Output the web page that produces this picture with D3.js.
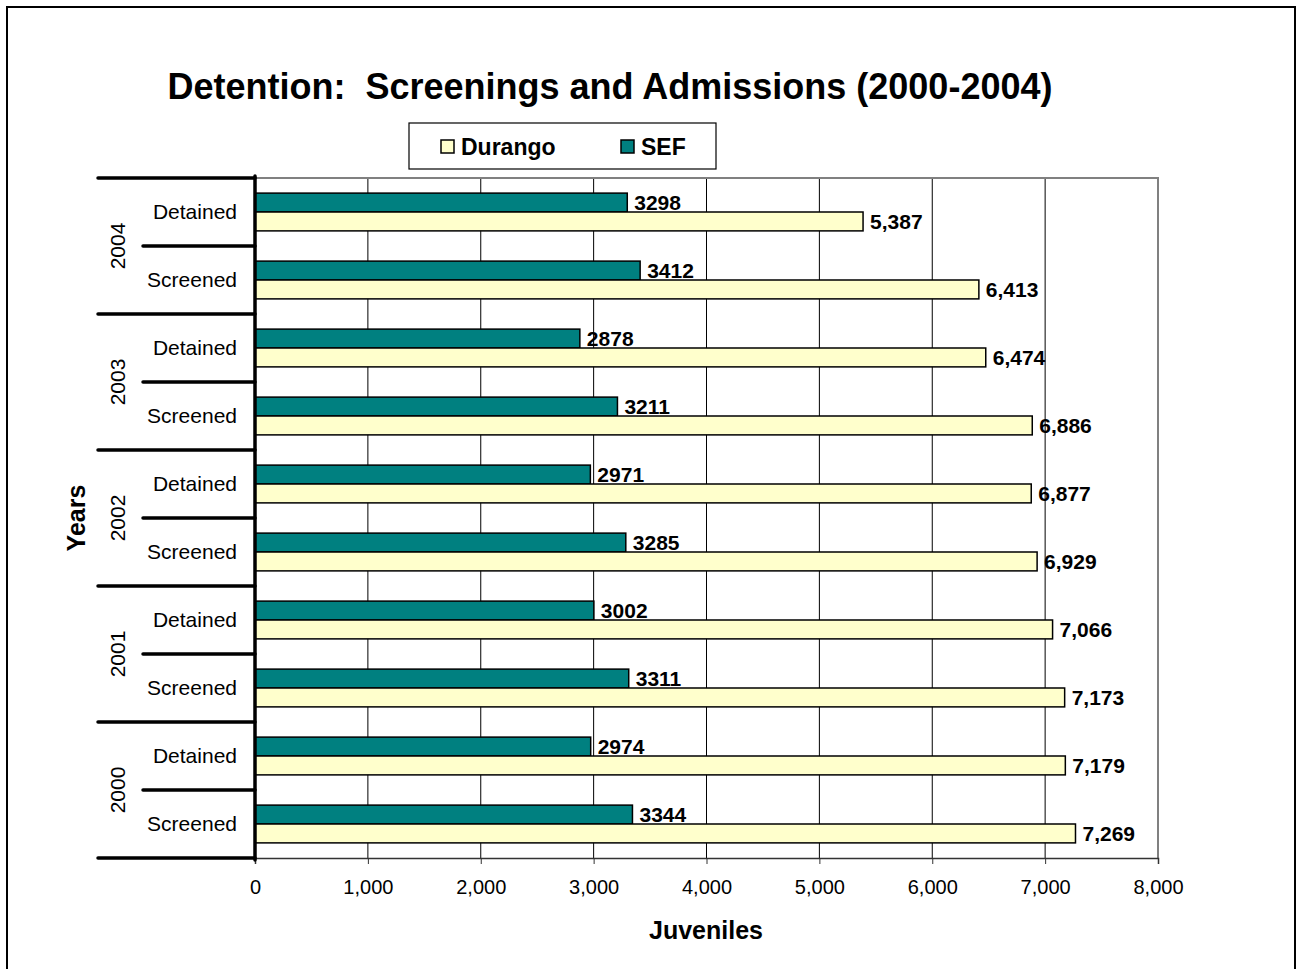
<!DOCTYPE html>
<html lang="en">
<head>
<meta charset="UTF-8">
<title>Detention: Screenings and Admissions</title>
<style>
  body { margin: 0; background: #fff; }
  svg, svg text { font-family: "Liberation Sans", Arial, sans-serif; }
</style>
</head>
<body>
<script src="https://d3js.org/d3.v7.min.js"></script>
<div id="chart"></div>
<script>
// data, top row first (as drawn)
const years = ["2004", "2003", "2002", "2001", "2000"];
const kinds = ["Detained", "Screened"];
const sefValues = [3298, 3412, 2878, 3211, 2971, 3285, 3002, 3311, 2974, 3344];
const durangoValues = [5387, 6413, 6474, 6886, 6877, 6929, 7066, 7173, 7179, 7269];
const xTicks = [0, 1000, 2000, 3000, 4000, 5000, 6000, 7000, 8000];

const rows = [];
years.forEach(y => kinds.forEach(k => rows.push({ year: y, kind: k, id: y + "-" + k })));
rows.forEach((r, i) => { r.sef = sefValues[i]; r.durango = durangoValues[i]; });

const W = 1303, H = 969;
const plot = { left: 255, right: 1158, top: 178, bottom: 858 };

const svg = d3.select("#chart").append("svg")
  .attr("width", W).attr("height", H);

// outer frame
svg.append("rect")
  .attr("x", 7).attr("y", 7).attr("width", 1288).attr("height", 975)
  .attr("fill", "#fff").attr("stroke", "#000").attr("stroke-width", 2);

const x = d3.scaleLinear().domain([0, 8000]).range([plot.left, plot.right]);
const y = d3.scaleBand().domain(rows.map(r => r.id)).range([plot.top, plot.bottom]).paddingInner(0).paddingOuter(0);
const inner = d3.scaleBand().domain(["sef", "durango"]).range([0, y.bandwidth()]).paddingInner(0).paddingOuter(0.8);

// gridlines
svg.append("g").selectAll("line").data(xTicks.slice(1, -1)).join("line")
  .attr("x1", d => x(d)).attr("x2", d => x(d))
  .attr("y1", plot.top).attr("y2", plot.bottom)
  .attr("stroke", "#000").attr("stroke-width", 1);

// plot border (top/right grey)
svg.append("path")
  .attr("d", `M${plot.left},${plot.top}H${plot.right}V${plot.bottom}`)
  .attr("fill", "none").attr("stroke", "#808080").attr("stroke-width", 2);

// x axis
const xAxis = svg.append("g")
  .attr("transform", `translate(0,${plot.bottom})`)
  .call(d3.axisBottom(x).tickValues(xTicks).tickFormat(d3.format(",")).tickSize(6).tickPadding(16));
xAxis.select(".domain").attr("stroke", "#333").attr("stroke-width", 1.5);
xAxis.selectAll(".tick line").attr("stroke", "#333");
xAxis.selectAll("text").attr("font-size", 20).attr("fill", "#000")
  .attr("font-family", "Liberation Sans, Arial, sans-serif");

// bars
const g = svg.append("g");
const colors = { sef: "#008080", durango: "#ffffcc" };
["sef", "durango"].forEach(key => {
  g.selectAll("rect." + key).data(rows).join("rect")
    .attr("class", key)
    .attr("x", x(0))
    .attr("y", d => y(d.id) + inner(key))
    .attr("width", d => x(d[key]) - x(0))
    .attr("height", inner.bandwidth())
    .attr("fill", colors[key]).attr("stroke", "#000").attr("stroke-width", 1.5);
  g.selectAll("text." + key).data(rows).join("text")
    .attr("class", key)
    .attr("x", d => x(d[key]) + 7)
    .attr("y", d => y(d.id) + inner(key) + inner.bandwidth() / 2)
    .attr("dy", "0.35em")
    .attr("font-size", 21).attr("font-weight", "bold")
    .text(d => key === "sef" ? d[key] : d3.format(",")(d[key]));
});

// left category axis
const axisG = svg.append("g").attr("stroke", "#000").attr("stroke-width", 3.5).attr("stroke-linecap", "round");
axisG.append("line").attr("x1", plot.left).attr("x2", plot.left)
  .attr("y1", plot.top - 2).attr("y2", plot.bottom + 2);
// group separators
const groupEdges = years.map(yr => y(yr + "-" + kinds[0])).concat([plot.bottom]);
axisG.selectAll("line.major").data(groupEdges).join("line").attr("class", "major")
  .attr("x1", 98).attr("x2", plot.left).attr("y1", d => d).attr("y2", d => d);
axisG.selectAll("line.minor").data(years).join("line").attr("class", "minor")
  .attr("x1", 143).attr("x2", plot.left)
  .attr("y1", d => y(d + "-" + kinds[1])).attr("y2", d => y(d + "-" + kinds[1]));

svg.append("g").selectAll("text").data(rows).join("text")
  .attr("x", 237).attr("y", d => y(d.id) + y.bandwidth() / 2)
  .attr("dy", "0.35em").attr("text-anchor", "end").attr("font-size", 21)
  .text(d => d.kind);

svg.append("g").selectAll("text").data(years).join("text")
  .attr("transform", d => `translate(125,${y(d + "-" + kinds[1])}) rotate(-90)`)
  .attr("text-anchor", "middle").attr("font-size", 21)
  .text(d => d);

// titles
svg.append("text").attr("x", 610).attr("y", 99).attr("text-anchor", "middle")
  .attr("font-size", 36).attr("font-weight", "bold").attr("xml:space", "preserve")
  .text("Detention:  Screenings and Admissions (2000-2004)");

svg.append("text").attr("transform", "translate(85,518) rotate(-90)")
  .attr("text-anchor", "middle").attr("font-size", 25).attr("font-weight", "bold")
  .text("Years");

svg.append("text").attr("x", 706).attr("y", 939).attr("text-anchor", "middle")
  .attr("font-size", 25).attr("font-weight", "bold")
  .text("Juveniles");

// legend
const legend = svg.append("g");
legend.append("rect").attr("x", 409).attr("y", 123).attr("width", 307).attr("height", 46)
  .attr("fill", "#fff").attr("stroke", "#000").attr("stroke-width", 1.2);
const legendItems = [{ key: "durango", label: "Durango", x: 441 }, { key: "sef", label: "SEF", x: 621 }];
legendItems.forEach(it => {
  legend.append("rect").attr("x", it.x).attr("y", 140).attr("width", 13).attr("height", 13)
    .attr("fill", colors[it.key]).attr("stroke", "#000").attr("stroke-width", 1.5);
  legend.append("text").attr("x", it.x + 20).attr("y", 147).attr("dy", "0.35em")
    .attr("font-size", 23).attr("font-weight", "bold").text(it.label);
});
</script>
</body>
</html>
